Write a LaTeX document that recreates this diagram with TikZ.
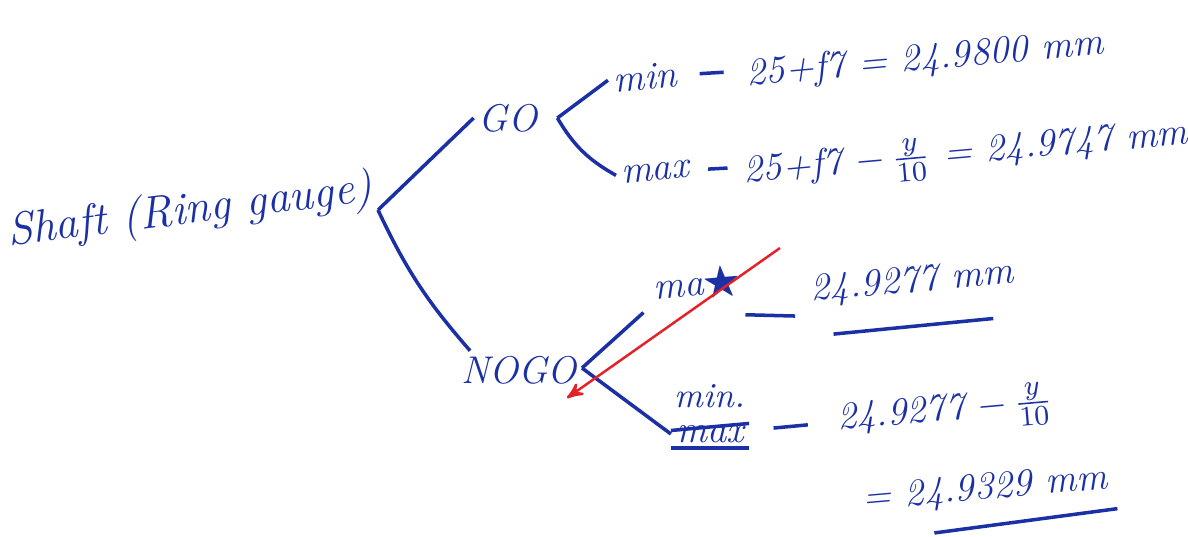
\documentclass[tikz,border=0pt]{standalone}
\usepackage{amssymb}
\usetikzlibrary{arrows,positioning}
\definecolor{ink}{RGB}{28,48,165}
\definecolor{pen}{RGB}{228,32,40}

\begin{document}
\begin{tikzpicture}[>=stealth',line width=1pt,draw=ink,text=ink,
                    font=\fontsize{11}{13}\selectfont\itshape]
  \tikzstyle{every node}=[inner sep=1pt]
  \tikzstyle{eqn}=[rotate=5]
  \tikzstyle{stroke}=[shorten <=5pt,shorten >=5pt]
  \useasboundingbox (0,0) rectangle (11.88,5.36);

  % left side and the two gauge ends
  \node[rotate=7,font=\fontsize{13}{15}\selectfont\itshape] (shaft) at (1.90,3.24) {Shaft (Ring gauge)};
  \coordinate (v0) at (3.78,3.26);
  \node (go)   at (5.08,4.18) {GO};
  \node (nogo) at (5.19,1.66) {NOGO};

  \path (v0) edge (go.west)
             edge [bend right=8] ([xshift=4pt]nogo.north west);

  % GO end
  \coordinate[right=0.15cm of go.east] (vgo);
  \node[eqn] (min1) at (6.45,4.59) {min};
  \node[eqn] (eq1)  at (9.25,4.76) {25+f7 = 24.9800 mm};
  \node[eqn] (max1) at (6.55,3.64) {max};
  \node[eqn] (eq2)  at (9.66,3.81) {25+f7 $-\,\frac{y}{10}$ = 24.9747 mm};

  \path (vgo) edge (min1.west)
              edge [bend right=15] (max1.west)
        (min1) edge [stroke] (eq1)
        (max1) edge [shorten <=4pt,shorten >=3pt] (eq2);

  % NOGO end
  \coordinate (vng) at (5.82,1.68);
  \node[eqn] (max2) at (6.97,2.50) {ma$\bigstar$};
  \node[eqn] (val2) at (9.12,2.53) {24.9277 mm};
  \node (strk) at (7.10,1.02) {max};
  \node[font=\fontsize{10}{12}\selectfont\itshape] (min2) [above=2pt of strk] {min.};
  \node[eqn] (val3) at (9.45,1.24) {24.9277 $-\,\frac{y}{10}$};
  \node[eqn] (val4) at (9.85,0.46) {= 24.9329 mm};

  \path (vng) edge ([xshift=-2pt]max2.south west)
              edge (strk.west)
        ([yshift=-0.33cm]max2.east) edge [shorten >=3pt] ([yshift=-0.24cm]val2.west)
        (strk) edge [shorten <=7pt,shorten >=7pt] (val3);

  % struck out word and underlines
  \draw (strk.south west) -- (strk.south east);
  \draw ([yshift=1pt]strk.west) -- ([yshift=3pt]strk.east);
  \draw ([shift={(0.26,-0.2)}]val2.south west) -- ([shift={(-0.27,-0.23)}]val2.south east);
  \draw ([shift={(0.75,-0.1)}]val4.south west) -- ([shift={(0.03,-0.08)}]val4.south east);

  % red strike over the upper NOGO branch
  \coordinate (rs) at (7.80,2.88);
  \coordinate (re) at (5.67,1.38);
  \draw[pen,line width=0.7pt,->] (rs) -- (re);
\end{tikzpicture}
\end{document}
